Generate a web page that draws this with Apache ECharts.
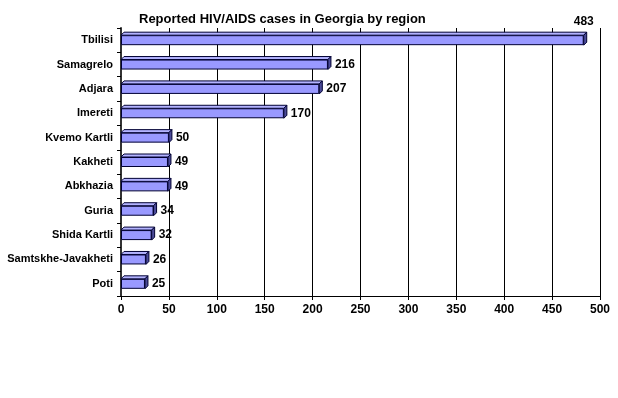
<!DOCTYPE html>
<html>
<head>
<meta charset="utf-8">
<script src="https://cdn.jsdelivr.net/npm/echarts@6/dist/echarts.min.js"></script>
<style>
  html, body { margin: 0; padding: 0; background: #fff; }
  #chart { width: 618px; height: 398px; }
</style>
</head>
<body>
<div id="chart"></div>
<script>
const regions = ['Tbilisi', 'Samagrelo', 'Adjara', 'Imereti', 'Kvemo Kartli', 'Kakheti',
  'Abkhazia', 'Guria', 'Shida Kartli', 'Samtskhe-Javakheti', 'Poti']
const cases = [483, 216, 207, 170, 50, 49, 49, 34, 32, 26, 25]

const chart = echarts.init(document.getElementById('chart'))

const barData = cases.map((v, i) => {
  if (i === 0) {
    // Excel moved this label above the plot
    return {
      value: v,
      label: { position: ['100%', -13], align: 'center', verticalAlign: 'middle' }
    }
  }
  return v
})

const option = {
  animation: false,
  title: {
    text: 'Reported HIV/AIDS cases in Georgia by region',
    left: 134,
    top: 8,
    textStyle: { fontFamily: 'Arial', fontWeight: 'bold', fontSize: 13, color: '#000' }
  },
  grid: { left: 121, right: 18, top: 28, bottom: 102 },
  xAxis: {
    type: 'value',
    min: 0,
    max: 500,
    interval: 50,
    axisLine: { show: true, lineStyle: { color: '#000' } },
    axisTick: { show: true, length: 4, lineStyle: { color: '#000' } },
    axisLabel: { fontFamily: 'Arial', fontWeight: 'bold', fontSize: 12, color: '#000', margin: 8 },
    splitLine: { show: true, lineStyle: { color: '#000', width: 1 } }
  },
  yAxis: {
    type: 'category',
    data: regions,
    inverse: true,
    axisLine: { show: true, lineStyle: { color: '#333', width: 2 } },
    axisTick: { show: true, length: 4, lineStyle: { color: '#000' } },
    axisLabel: { fontFamily: 'Arial', fontWeight: 'bold', fontSize: 11, color: '#000', margin: 8 }
  },
  series: [
    {
      type: 'bar',
      data: barData,
      barWidth: 10,
      itemStyle: { color: '#9999ff', borderColor: '#000033', borderWidth: 1 },
      label: {
        show: true,
        position: 'right',
        distance: 7,
        fontFamily: 'Arial',
        fontWeight: 'bold',
        fontSize: 12,
        color: '#000'
      },
      z: 2
    },
    {
      // 3D end cap and top face
      type: 'custom',
      data: cases.map((v, i) => [v, i]),
      encode: { x: 0, y: 1 },
      z: 3,
      silent: true,
      renderItem: (params, api) => {
        const end = api.coord([api.value(0), api.value(1)])
        const start = api.coord([0, api.value(1)])
        const h = 5
        const d = 3
        const x1 = end[0]
        const x0 = start[0]
        const yt = end[1] - h
        const yb = end[1] + h
        return {
          type: 'group',
          children: [
            {
              type: 'polygon',
              shape: { points: [[x0, yt], [x0 + d, yt - d], [x1 + d, yt - d], [x1, yt]] },
              style: { fill: '#b3b3ff', stroke: '#000033', lineWidth: 1 }
            },
            {
              type: 'polygon',
              shape: { points: [[x1, yt], [x1 + d, yt - d], [x1 + d, yb - d], [x1, yb]] },
              style: { fill: '#4c4c99', stroke: '#000033', lineWidth: 1 }
            }
          ]
        }
      }
    }
  ]
}

chart.setOption(option)
</script>
</body>
</html>
